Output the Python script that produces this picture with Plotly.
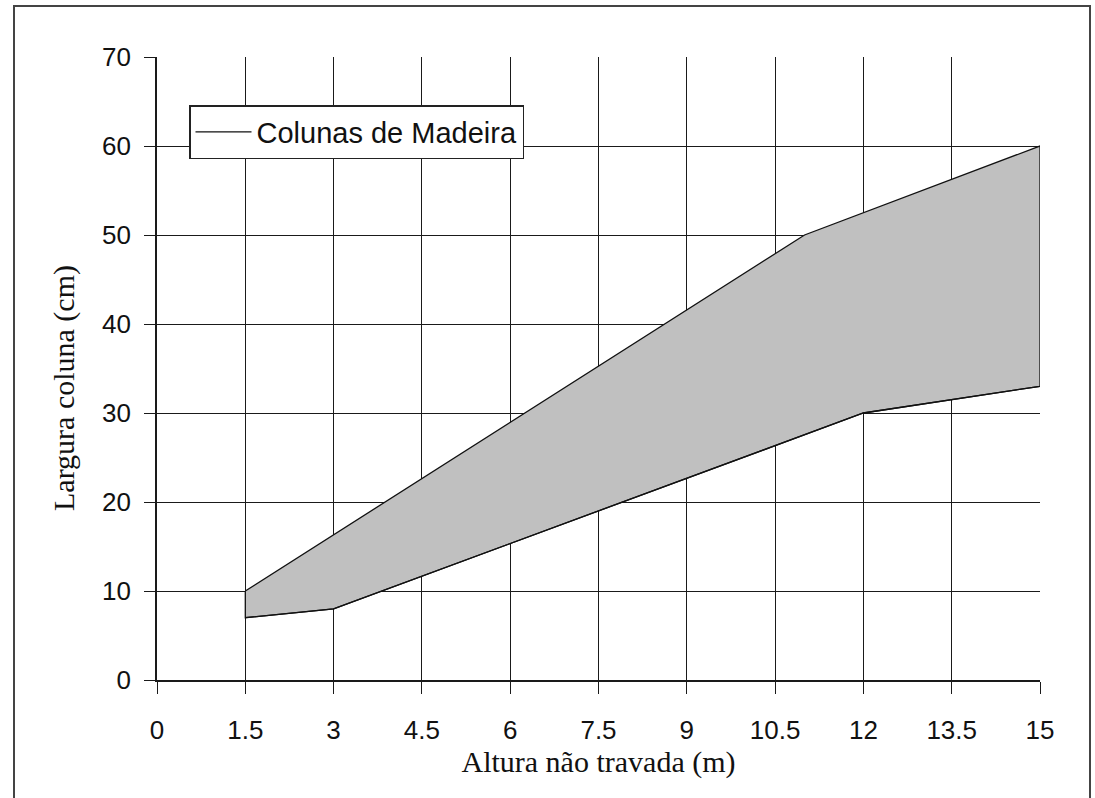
import plotly.graph_objects as go

# Data
upper_x = [1.5, 11, 15]
upper_y = [10, 50, 60]
lower_x = [1.5, 3, 12, 15]
lower_y = [7, 8, 30, 33]
x_ticks = [0, 1.5, 3, 4.5, 6, 7.5, 9, 10.5, 12, 13.5, 15]
x_tick_labels = ["0", "1.5", "3", "4.5", "6", "7.5", "9", "10.5", "12", "13.5", "15"]
y_ticks = [0, 10, 20, 30, 40, 50, 60, 70]
series_name = "Colunas de Madeira"
x_title = "Altura não travada (m)"
y_title = "Largura coluna (cm)"

# Polygon: upper boundary left->right, then lower boundary right->left
poly_x = upper_x + lower_x[::-1] + [upper_x[0]]
poly_y = upper_y + lower_y[::-1] + [upper_y[0]]

fig = go.Figure()
fig.add_trace(go.Scatter(
    x=poly_x, y=poly_y, mode="lines", fill="toself",
    fillcolor="#c0c0c0", line=dict(color="#111111", width=1.3),
    showlegend=False, hoverinfo="skip"))
fig.add_trace(go.Scatter(
    x=lower_x, y=lower_y, mode="lines", name=series_name,
    line=dict(color="#111111", width=1.3), showlegend=True))

W, H = 1095, 798
# plot area in page pixels: x 157..1040, y 57..680
L, T = 157, 57
R = W - 1040
B = H - 680
pw, ph = W - L - R, H - T - B

def px2paper_x(px):
    return (px - L) / pw

def px2paper_y(py):
    return (H - B - py) / ph

fig.update_layout(
    width=W, height=H,
    margin=dict(l=L, r=R, t=T, b=B, autoexpand=False),
    paper_bgcolor="white", plot_bgcolor="white",
    font=dict(family="Arial, Liberation Sans, sans-serif", color="#111111"),
    legend=dict(
        x=px2paper_x(189), y=px2paper_y(105), xanchor="left", yanchor="top",
        bgcolor="white", bordercolor="#222222", borderwidth=1.5,
        font=dict(size=29, family="Arial, Liberation Sans, sans-serif", color="#111111"),
        itemwidth=56,
    ),
    shapes=[dict(
        type="rect", xref="paper", yref="paper",
        x0=px2paper_x(14), x1=px2paper_x(1090),
        y0=px2paper_y(830), y1=px2paper_y(6),
        line=dict(color="#444444", width=2), layer="below")],
    annotations=[dict(
        text=y_title, xref="paper", yref="paper",
        x=px2paper_x(64), y=px2paper_y(388), xanchor="center", yanchor="middle",
        textangle=-90, showarrow=False,
        font=dict(size=30, family="Times New Roman, Liberation Serif, serif", color="#111111"))],
)

fig.update_xaxes(
    range=[0, 15], tickvals=x_ticks, ticktext=x_tick_labels,
    showgrid=True, gridcolor="#1a1a1a", gridwidth=1.4,
    showline=True, linecolor="#1a1a1a", linewidth=1.6,
    ticks="outside", ticklen=12, tickcolor="#1a1a1a", tickwidth=1.4,
    zeroline=False, ticklabelstandoff=14,
    tickfont=dict(size=26, family="Arial, Liberation Sans, sans-serif"),
    title=dict(text=x_title, standoff=2,
               font=dict(size=30, family="Times New Roman, Liberation Serif, serif")),
    automargin=False,
)
fig.update_yaxes(
    range=[0, 70], tickvals=y_ticks,
    showgrid=True, gridcolor="#1a1a1a", gridwidth=1.4,
    showline=True, linecolor="#1a1a1a", linewidth=1.6,
    ticks="outside", ticklen=11, tickcolor="#1a1a1a", tickwidth=1.4,
    zeroline=False, ticklabelstandoff=8,
    tickfont=dict(size=26, family="Arial, Liberation Sans, sans-serif"),
    automargin=False,
)

fig.write_html("out.html", config={"displayModeBar": False},
               post_script="document.body.style.margin='0';")
